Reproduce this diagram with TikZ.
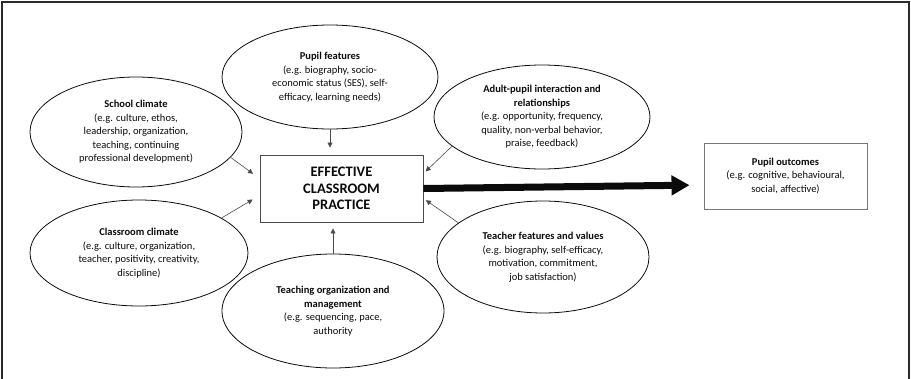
\documentclass[tikz,border=0pt]{standalone}
\usepackage{fontspec}
\setmainfont{Carlito}
\usetikzlibrary{arrows.meta,shapes.geometric}
\definecolor{tinta}{HTML}{0B0B0B}
\definecolor{tinta2}{HTML}{4A4A4A}
\definecolor{borde}{HTML}{767676}
\definecolor{marco}{HTML}{2A2A2A}
\tikzset{
  factor/.style={ellipse,draw=tinta,line width=0.8pt,inner sep=0pt,align=center,text=tinta,font=\fontsize{10.5}{13.5}\selectfont},
  practica/.style={rectangle,draw=tinta2,line width=0.9pt,minimum width=163pt,minimum height=67pt,inner sep=0pt,align=center,text=tinta,font=\fontsize{14.5}{16.5}\selectfont\bfseries},
  resultado/.style={rectangle,draw=borde,line width=0.9pt,minimum width=163pt,minimum height=66pt,inner sep=0pt,align=center,text=tinta,font=\fontsize{10.5}{13.5}\selectfont},
  enlace/.style={draw=tinta2,line width=0.6pt,-{Triangle[length=5pt,width=5pt]}},
  flechagruesa/.style={draw=tinta,line width=7pt,-{Triangle[length=18pt,width=19pt]}},
}

\begin{document}
\begin{tikzpicture}[x=1pt,y=-1pt]
  \useasboundingbox (0,0) rectangle (911,378);
  % marco abierto por abajo
  \draw[marco,line width=2pt] (2,380) -- (2,2) -- (909,2) -- (909,380);

  % nodo central y resultado
  \node[practica] (practica) at (341.5,188.5) {EFFECTIVE\\CLASSROOM\\PRACTICE};
  \node[resultado] (resultado) at (785.5,176) {\textbf{Pupil outcomes}\\(e.g. cognitive, behavioural,\\social, affective)};

  % factores
  \node[factor,minimum width=216pt,minimum height=104pt] (alumno) at (330,77)
    {\textbf{Pupil features}\\(e.g. biography, socio-\\economic status (SES), self-\\efficacy, learning needs)};
  \node[factor,minimum width=212pt,minimum height=110pt] (escuela) at (136,132)
    {\textbf{School climate}\\(e.g. culture, ethos,\\leadership, organization,\\teaching, continuing\\professional development)};
  \node[factor,minimum width=216pt,minimum height=104pt] (adulto) at (542,117)
    {\textbf{Adult-pupil interaction and}\\\textbf{relationships}\\(e.g. opportunity, frequency,\\quality, non-verbal behavior,\\praise, feedback)};
  \node[factor,minimum width=218pt,minimum height=106pt] (aula) at (139,253)
    {\textbf{Classroom climate}\\(e.g. culture, organization,\\teacher, positivity, creativity,\\discipline)};
  \node[factor,minimum width=222pt,minimum height=114pt] (ensenanza) at (333,311)
    {\textbf{Teaching organization and}\\\textbf{management}\\(e.g. sequencing, pace,\\authority};
  \node[factor,minimum width=212pt,minimum height=112pt] (docente) at (543,257)
    {\textbf{Teacher features and values}\\(e.g. biography, self-efficacy,\\motivation, commitment,\\job satisfaction)};

  % influencias sobre la practica
  \draw[enlace,shorten >=7pt] (alumno.south) -- (alumno.south |- practica.north);
  \draw[enlace,shorten >=6pt] (ensenanza.north) -- (ensenanza.north |- practica.south);
  \draw[enlace,shorten >=8pt] (escuela.-15) -- ([yshift=10pt]practica.west);
  \draw[enlace,shorten >=8pt] (aula.23) -- ([yshift=-7pt]practica.west);
  \draw[enlace,shorten >=3pt] (adulto.-162) -- ([yshift=15pt]practica.east);
  \draw[enlace,shorten >=3pt] (docente.158) -- ([yshift=-10pt]practica.east);

  % efecto principal
  \draw[flechagruesa,shorten >=14pt] (practica.east) -- ([yshift=-9pt]resultado.west);
\end{tikzpicture}
\end{document}
